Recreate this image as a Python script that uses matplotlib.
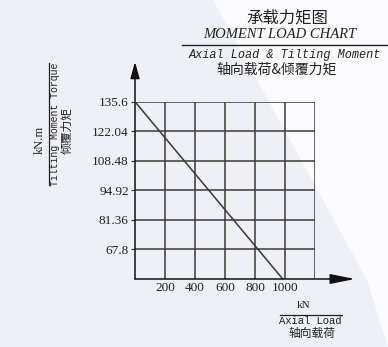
import matplotlib
matplotlib.use("Agg")
import matplotlib.pyplot as plt
from matplotlib.patches import Polygon
from matplotlib.lines import Line2D

# ---- data ----
x_ticks = [200, 400, 600, 800, 1000]
x_grid = [200, 400, 600, 800, 1000, 1200]
y_ticks = [135.6, 122.04, 108.48, 94.92, 81.36, 67.8]
y_tick_labels = ["135.6", "122.04", "108.48", "94.92", "81.36", "67.8"]
load_x = [0, 985]
moment_y = [135.6, 54.24]
x_min, x_max = 0, 1200
y_min, y_max = 54.24, 135.6

W, H = 388, 347
fig = plt.figure(figsize=(W / 100, H / 100), dpi=100)
fig.patch.set_facecolor("#eef0f5")

def fx(px):
    return px / W

def fy(py):
    return 1 - py / H

# white diagonal background region
fig.patches.append(Polygon([(fx(213), fy(0)), (fx(W), fy(0)), (fx(W), fy(H)), (fx(367), fy(280))],
                           closed=True, transform=fig.transFigure, facecolor="#fbfbfd",
                           edgecolor="none", zorder=-5))

left, right, top, bottom = 135, 315, 101.7, 279
ax = fig.add_axes([fx(left), fy(bottom), (right - left) / W, (bottom - top) / H])
ax.set_zorder(1)
ax.set_facecolor("none")
ax.set_xlim(x_min, x_max)
ax.set_ylim(y_min, y_max)
for s in ax.spines.values():
    s.set_visible(False)

gc = "#3a3a3a"
ax.vlines(x_grid, y_min, y_max, colors=gc, linewidth=1.1)
ax.hlines(y_ticks, x_min, x_max, colors=gc, linewidth=1.1)
ax.plot(load_x, moment_y, color=gc, linewidth=1.1)

# axis arrows
ax.annotate("", xy=(0, 1.225), xytext=(0, 0), xycoords="axes fraction",
            arrowprops=dict(arrowstyle="-|>,head_length=1.0,head_width=0.28", color="#111111",
                            lw=1.1, shrinkA=0, shrinkB=0))
ax.annotate("", xy=(1.222, 0), xytext=(0, 0), xycoords="axes fraction",
            arrowprops=dict(arrowstyle="-|>,head_length=1.5,head_width=0.3", color="#111111",
                            lw=1.1, shrinkA=0, shrinkB=0))

serif = ["Liberation Serif", "Noto Sans CJK SC"]
ax.set_xticks(x_ticks)
ax.set_xticklabels([str(v) for v in x_ticks], family=serif, fontsize=9.5, color="#222222")
ax.set_yticks(y_ticks)
ax.set_yticklabels(y_tick_labels, family=serif, fontsize=9.5, color="#222222")
ax.tick_params(axis="x", length=0, pad=2.5)
ax.tick_params(axis="y", length=3, width=0.8, pad=1.5, color="#333333")

# title block
cjk = ["Noto Sans CJK SC", "DejaVu Sans"]
fig.text(fx(287), fy(18), "承载力矩图", family=cjk, fontsize=11.8,
         ha="center", va="center", color="#222222")
fig.text(fx(280), fy(35), "MOMENT LOAD CHART", family="Liberation Serif", fontsize=10.5,
         style="italic", ha="center", va="center", color="#222222")
fig.add_artist(Line2D([fx(182), fx(387)], [fy(45), fy(45)], color="#222222", lw=1.0))
fig.text(fx(285), fy(55), "Axial Load & Tilting Moment", family="Liberation Mono", fontsize=8.6,
         style="italic", ha="center", va="center", color="#222222")
fig.text(fx(277), fy(70), "轴向载荷&倾覆力矩", family=cjk, fontsize=10,
         ha="center", va="center", color="#222222")

# y axis label block
fig.text(fx(40), fy(140), "kN.m", family="Liberation Serif", fontsize=9, rotation=90,
         ha="center", va="center", color="#222222")
fig.add_artist(Line2D([fx(48.5), fx(48.5)], [fy(63), fy(185)], color="#222222", lw=0.9))
fig.text(fx(55), fy(124), "Tilting Moment Torque", family="Liberation Mono", fontsize=7.1,
         rotation=90, ha="center", va="center", color="#222222")
fig.text(fx(67), fy(130), "倾覆力矩", family=cjk, fontsize=8.5, rotation=90,
         ha="center", va="center", color="#222222")

# x axis label block
fig.text(fx(304), fy(305), "kN", family="Liberation Serif", fontsize=8,
         ha="center", va="center", color="#222222")
fig.add_artist(Line2D([fx(280), fx(342)], [fy(314.5), fy(314.5)], color="#222222", lw=0.9))
fig.text(fx(310), fy(321), "Axial Load", family="Liberation Mono", fontsize=7.6,
         ha="center", va="center", color="#222222")
fig.text(fx(312), fy(333), "轴向载荷", family=cjk, fontsize=8.5,
         ha="center", va="center", color="#222222")

fig.savefig("out.png", dpi=100, facecolor=fig.get_facecolor())
